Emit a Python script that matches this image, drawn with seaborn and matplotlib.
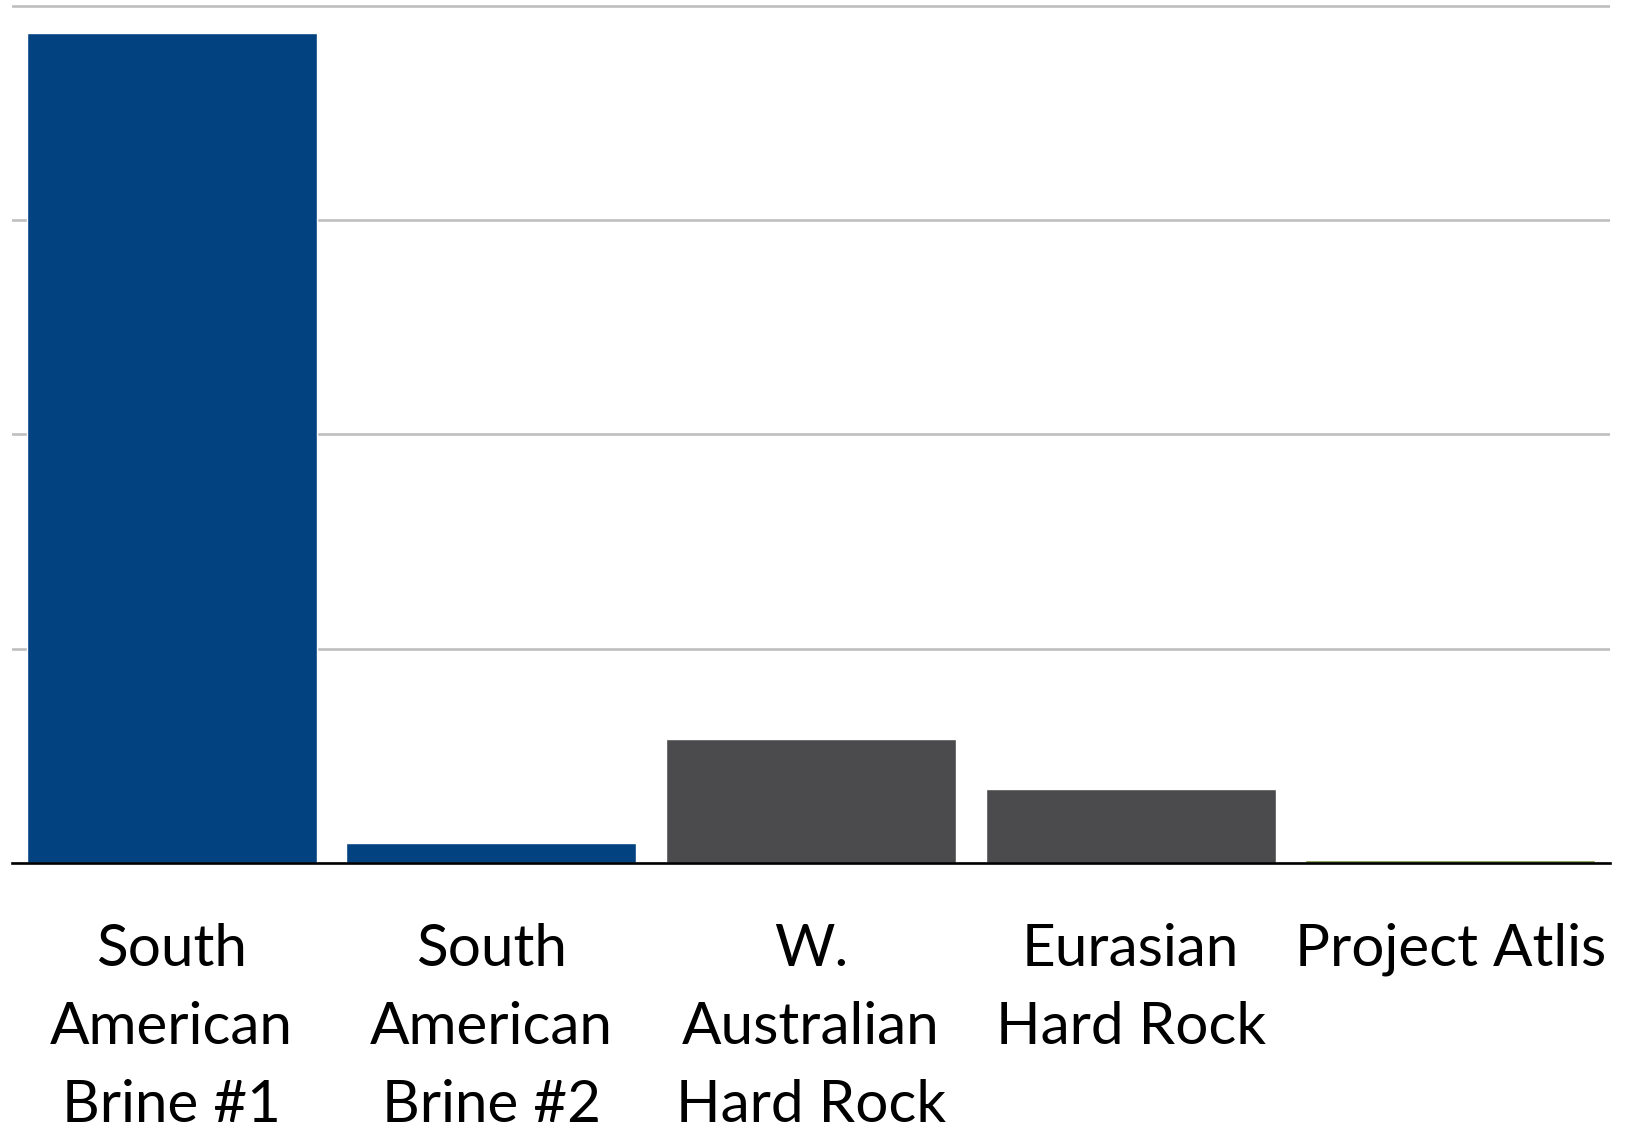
import numpy as np
import pandas as pd
import matplotlib
matplotlib.use("Agg")
import matplotlib.pyplot as plt
import seaborn as sns

# chart values (gridline step = 1 unit)
projects = ["South\nAmerican\nBrine #1", "South\nAmerican\nBrine #2",
            "W.\nAustralian\nHard Rock", "Eurasian\nHard Rock", "Project Atlis"]
values = [3.874, 0.093, 0.579, 0.345, 0.015]
bar_colors = ["#034281", "#034281", "#4B4B4D", "#4B4B4D", "#77933C"]
grid_ticks = [0, 1, 2, 3, 4]

df = pd.DataFrame({"project": projects, "value": values})

sns.set_style("white")
plt.rcParams["font.family"] = ["Lato", "DejaVu Sans"]

W, H = 1627, 1128
fig = plt.figure(figsize=(W / 100, H / 100), dpi=100)
ax = fig.add_axes([12 / W, (H - 863) / H, (1610 - 12) / W, (863 - 2.5) / H])

sns.barplot(data=df, x="project", y="value", hue="project",
            palette=dict(zip(projects, bar_colors)), legend=False,
            width=0.908, saturation=1, ax=ax, zorder=3)

ax.set_xlim(-0.5, len(projects) - 0.5)
ax.set_ylim(0, 4.015)
ax.set_yticks(grid_ticks)
ax.set_yticklabels([])
ax.tick_params(axis="y", length=0)
ax.grid(axis="y", color="#BFBFBF", linewidth=1.9, zorder=0)
ax.set_axisbelow(True)

for s in ["top", "right", "left"]:
    ax.spines[s].set_visible(False)
ax.spines["bottom"].set_color("black")
ax.spines["bottom"].set_linewidth(1.9)
ax.spines["bottom"].set_zorder(4)

ax.tick_params(axis="x", length=0, pad=43, labelcolor="black")
for lbl in ax.get_xticklabels():
    lbl.set_fontsize(42)
    lbl.set_linespacing(1.59)
    lbl.set_va("top")
ax.set_xlabel("")
ax.set_ylabel("")

fig.savefig("out.png", dpi=100)
